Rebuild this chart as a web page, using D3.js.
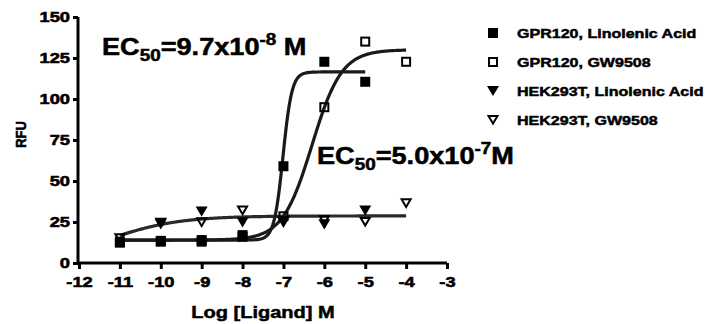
<!DOCTYPE html>
<head>
  <meta charset="utf-8">
  <script src="https://d3js.org/d3.v7.min.js"></script>
  <style>
    body { margin:0; background:#fff; }
    svg { display:block; font-family:"Liberation Sans", Arial, sans-serif; font-weight:bold; }
  </style>
</head>
<body>
  <svg width="709" height="324"></svg>
  <script>
    // log concentrations used for every series
    var logConc = [-11, -10, -9, -8, -7, -6, -5, -4];
    var gprLinolenic = [13, 13.5, 14, 17, 59, 122.7, 110.5, null];
    var gprGW9508 = [12.4, 13, 13, 16, 28.5, 95, 135, 122.7];
    var hekLinolenic = [null, 23.6, 31.3, 24.8, 24.5, 23.5, 31.9, null];
    var hekGW9508 = [15, 24.5, 24.8, 31.9, 25.5, 26, 25, 36.4];

    var seriesNames = ['GPR120, Linolenic Acid', 'GPR120, GW9508', 'HEK293T, Linolenic Acid', 'HEK293T, GW9508'];

    // fitted sigmoid parameters: bottom, top, logEC50, hill, x range
    var fitLinolenic = {bottom: 14, top: 116.5, logEC50: -7.01, hill: 4, from: -11, to: -5};
    var fitGW9508 = {bottom: 14, top: 130, logEC50: -6.3, hill: 1.2, from: -11, to: -4};
    var fitHEK = {bottom: 0, top: 28.7, logEC50: -11.3, hill: 0.5, from: -11, to: -4};

    var xTicks = [-12, -11, -10, -9, -8, -7, -6, -5, -4, -3];
    var yTicks = [0, 25, 50, 75, 100, 125, 150];

    var svg = d3.select('svg');
    var sx = 1.18; // the original text is a bit wider than the font

    var x = d3.scaleLinear().domain([-12, -3]).range([79, 447]);
    var y = d3.scaleLinear().domain([0, 150]).range([263, 17]);

    // stretch text horizontally around its x anchor
    function stretch(sel) {
      sel.each(function() {
        var t = d3.select(this);
        var xa = +t.attr('x') || 0;
        t.attr('transform', (t.attr('transform') || '') + ' translate(' + xa * (1 - sx) + ',0) scale(' + sx + ',1)');
      });
    }

    // fitted curves
    function curvePoints(f) {
      return d3.range(f.from, f.to + 0.0001, 0.02).map(function(c) {
        return [c, f.bottom + (f.top - f.bottom) / (1 + Math.pow(10, (f.logEC50 - c) * f.hill))];
      });
    }
    var line = d3.line().x(d => x(d[0])).y(d => y(d[1]));
    [[fitHEK, '#2a2a2a'], [fitGW9508, '#1a1a1a'], [fitLinolenic, '#1a1a1a']].forEach(function(p) {
      svg.append('path')
        .attr('d', line(curvePoints(p[0])))
        .attr('fill', 'none')
        .attr('stroke', p[1])
        .attr('stroke-width', 3.2);
    });

    // symbols
    var sq = 10, tri = 12;
    function drawSymbol(g, kind, cx, cy) {
      if (kind === 'fsq') {
        g.append('rect').attr('x', cx - sq / 2).attr('y', cy - sq / 2).attr('width', sq).attr('height', sq).attr('fill', '#000');
      } else if (kind === 'osq') {
        g.append('rect').attr('x', cx - sq / 2 + 1).attr('y', cy - sq / 2 + 1).attr('width', sq - 2).attr('height', sq - 2)
          .attr('fill', 'none').attr('stroke', '#000').attr('stroke-width', 2);
      } else {
        var h = tri * 0.85;
        var pts = [[cx - tri / 2, cy - h / 2], [cx + tri / 2, cy - h / 2], [cx, cy + h / 2]];
        if (kind === 'otri') {
          pts = [[cx - tri / 2 + 1.5, cy - h / 2 + 1], [cx + tri / 2 - 1.5, cy - h / 2 + 1], [cx, cy + h / 2 - 1.5]];
        }
        g.append('polygon').attr('points', pts.map(p => p.join(',')).join(' '))
          .attr('fill', kind === 'ftri' ? '#000' : 'none')
          .attr('stroke', '#000').attr('stroke-width', kind === 'ftri' ? 0 : 2);
      }
    }

    var series = [[gprLinolenic, 'fsq'], [gprGW9508, 'osq'], [hekLinolenic, 'ftri'], [hekGW9508, 'otri']];
    var gPts = svg.append('g');
    series.forEach(function(s) {
      s[0].forEach(function(v, i) {
        if (v === null) return;
        drawSymbol(gPts, s[1], x(logConc[i]), y(v));
      });
    });

    // axes
    var yAxis = d3.axisLeft(y).tickValues(yTicks).tickSize(5).tickPadding(3);
    var xAxis = d3.axisBottom(x).tickValues(xTicks).tickSize(6).tickPadding(7).tickFormat(d => String(d));

    var gy = svg.append('g').attr('transform', 'translate(78,0)').call(yAxis);
    var gx = svg.append('g').attr('transform', 'translate(0,263)').call(xAxis);
    [gx, gy].forEach(function(g) {
      g.attr('font-family', null).attr('font-size', null);
      g.select('.domain').attr('stroke', '#000').attr('stroke-width', 3);
      g.selectAll('.tick line').attr('stroke', '#000').attr('stroke-width', 3);
      g.selectAll('.tick text').attr('fill', '#000').attr('font-size', 15.5)
        .attr('stroke', '#000').attr('stroke-width', 0.6);
      stretch(g.selectAll('.tick text'));
    });
    gy.select('.domain').attr('d', 'M0,17V263');
    gx.select('.domain').attr('d', 'M77,0H447');

    // axis titles
    svg.append('text').attr('x', 263).attr('y', 318).attr('text-anchor', 'middle')
      .attr('font-size', 17).attr('stroke', '#000').attr('stroke-width', 0.5)
      .text('Log [Ligand] M').call(stretch);
    svg.append('text').attr('transform', 'translate(26,134.5) scale(' + sx + ',1) rotate(-90)')
      .attr('text-anchor', 'middle').attr('font-size', 13).attr('stroke', '#000').attr('stroke-width', 0.5)
      .text('RFU');

    // EC50 annotations
    function ec50(xp, yp, val, exp, gap) {
      var t = svg.append('text').attr('x', xp).attr('y', yp).attr('font-size', 23)
        .attr('stroke', '#000').attr('stroke-width', 0.5);
      t.append('tspan').text('EC');
      t.append('tspan').attr('font-size', 16).attr('dy', 6).text('50');
      t.append('tspan').attr('dy', -6).text('=' + val + 'x10');
      t.append('tspan').attr('font-size', 16).attr('dy', -10).text(exp);
      t.append('tspan').attr('dy', 10).text(gap + 'M');
      stretch(t);
    }
    ec50(102, 55, '9.7', '-8', ' ');
    ec50(317, 164, '5.0', '-7', '');

    // legend
    var lg = svg.append('g');
    seriesNames.forEach(function(name, i) {
      var yy = 33 + i * 29;
      drawSymbol(lg, series[i][1], 493, yy);
      lg.append('text').attr('x', 517).attr('y', yy + 5).attr('font-size', 13.6)
        .attr('stroke', '#000').attr('stroke-width', 0.5).text(name).call(stretch);
    });
  </script>
</body>
